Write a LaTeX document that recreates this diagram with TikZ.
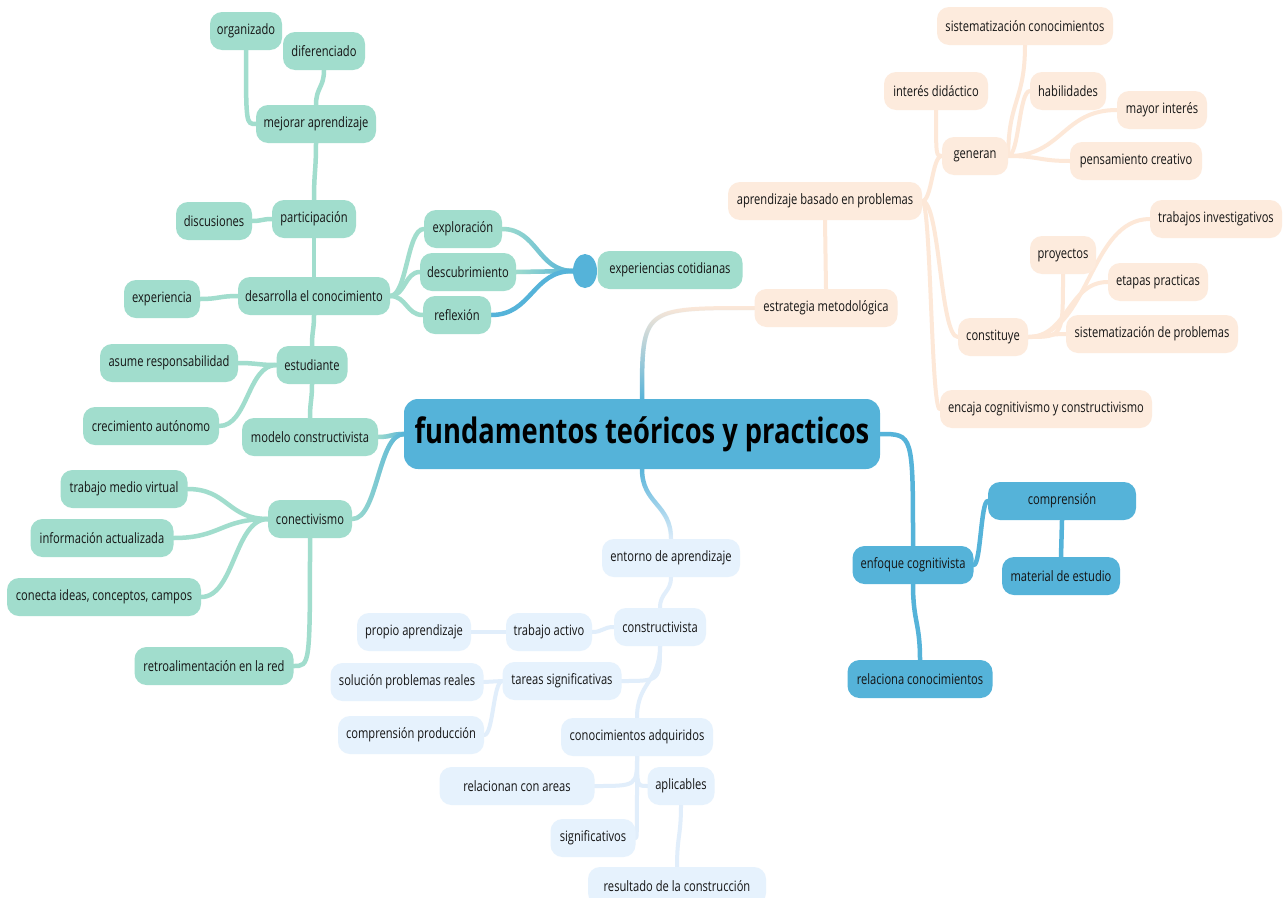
\documentclass[tikz,border=0pt]{standalone}
\usepackage{fontspec}
\setmainfont{Open Sans}[FakeStretch=0.78]
\usetikzlibrary{calc,backgrounds,fadings,shapes.geometric}
\definecolor{tealc}{HTML}{A1DDCD}
\definecolor{bluec}{HTML}{55B3D9}
\definecolor{peachc}{HTML}{FDEBDD}
\definecolor{peachl}{HTML}{FDE8D8}
\definecolor{lbluec}{HTML}{E6F2FD}
\definecolor{lbluel}{HTML}{E1EEFB}
\definecolor{txt}{HTML}{141414}
\tikzfading[name=fadeR, left color=transparent!100, right color=transparent!0]
\tikzfading[name=fadeUp, top color=transparent!100, bottom color=transparent!0]
\tikzfading[name=fadeDown, top color=transparent!0, bottom color=transparent!100]
\begin{document}
\begin{tikzpicture}[x=1pt,y=-1pt,
  box/.style={rounded corners=12pt, minimum height=38pt, inner xsep=4pt, inner ysep=0pt,
    font=\fontsize{14.3}{16}\selectfont, text=txt},
  tb/.style={box, fill=tealc},
  pb/.style={box, fill=peachc},
  bb/.style={box, fill=bluec},
  lb/.style={box, fill=lbluec},
  titlebox/.style={rounded corners=14pt, fill=bluec, minimum height=70pt, inner sep=0pt,
    font=\fontsize{35}{38}\selectfont\bfseries, text=black},
  conn/.style={line width=4.5pt, line cap=round},
  tl/.style={conn, draw=tealc},
  pl/.style={conn, draw=peachl, line width=4pt},
  bl/.style={conn, draw=bluec},
  ll/.style={conn, draw=lbluel, line width=4pt},
  hh/.style={to path={let \p1=(\tikztostart), \p2=(\tikztotarget) in
    (\p1) .. controls ({(\x1+\x2)/2},\y1) and ({(\x1+\x2)/2},\y2) .. (\p2)}},
  vv/.style={to path={let \p1=(\tikztostart), \p2=(\tikztotarget) in
    (\p1) .. controls (\x1,{(\y1+\y2)/2}) and (\x2,{(\y1+\y2)/2}) .. (\p2)}},
  hv/.style={to path={let \p1=(\tikztostart), \p2=(\tikztotarget) in
    (\p1) .. controls (\x2,\y1) .. (\p2)}},
  vh/.style={to path={let \p1=(\tikztostart), \p2=(\tikztotarget) in
    (\p1) .. controls (\x1,\y2) .. (\p2)}}
]
\useasboundingbox (0,0) rectangle (1284,897);

% ---------- teal branch ----------
\node[tb, minimum width=72] (org) at (246,31) {organizado};
\node[tb, minimum width=82] (dif) at (324,51) {diferenciado};
\node[tb, minimum width=120] (mej) at (316,124) {mejorar aprendizaje};
\node[tb, minimum width=84] (par) at (314,219) {participación};
\node[tb, minimum width=76] (dis) at (214,221) {discusiones};
\node[tb, minimum width=152] (des) at (314,296) {desarrolla el conocimiento};
\node[tb, minimum width=76] (exper) at (162,299) {experiencia};
\node[tb, minimum width=78] (explo) at (463,229) {exploración};
\node[tb, minimum width=96] (desc) at (468,272) {descubrimiento};
\node[tb, minimum width=68] (refl) at (457,315) {reflexión};
\node[ellipse, fill=bluec, minimum width=24pt, minimum height=34pt, inner sep=0pt] (circ) at (585,271) {};
\node[tb, minimum width=145] (expc) at (670,270) {experiencias cotidianas};
\node[tb, minimum width=71] (est) at (312,365) {estudiante};
\node[tb, minimum width=138] (asu) at (169,363) {asume responsabilidad};
\node[tb, minimum width=136] (cre) at (151,426) {crecimiento autónomo};
\node[tb, minimum width=136] (mod) at (310,437) {modelo constructivista};
\node[tb, minimum width=84] (con) at (310,519) {conectivismo};
\node[tb, minimum width=127] (tra) at (124,489) {trabajo medio virtual};
\node[tb, minimum width=143] (inf) at (102,538) {información actualizada};
\node[tb, minimum width=194] (cid) at (104,597) {conecta ideas, conceptos, campos};
\node[tb, minimum width=159] (ret) at (214,666) {retroalimentación en la red};

% ---------- title ----------
\node[titlebox, minimum width=476pt] (T) at (642,434) {fundamentos teóricos y practicos};

% ---------- peach branch ----------
\node[pb, minimum width=176] (sisc) at (1025,26) {sistematización conocimientos};
\node[pb, minimum width=104] (intd) at (936,91) {interés didáctico};
\node[pb, minimum width=76] (hab) at (1068,91) {habilidades};
\node[pb, minimum width=90] (may) at (1162,110) {mayor interés};
\node[pb, minimum width=66] (gen) at (975,156) {generan};
\node[pb, minimum width=132] (pen) at (1136,161) {pensamiento creativo};
\node[pb, minimum width=194] (abp) at (825,201) {aprendizaje basado en problemas};
\node[pb, minimum width=132] (tinv) at (1216,219) {trabajos investigativos};
\node[pb, minimum width=66] (pro) at (1063,255) {proyectos};
\node[pb, minimum width=100] (eta) at (1158,282) {etapas practicas};
\node[pb, minimum width=143] (estr) at (826,308) {estrategia metodológica};
\node[pb, minimum width=70] (cons) at (993,337) {constituye};
\node[pb, minimum width=172] (sisp) at (1152,334) {sistematización de problemas};
\node[pb, minimum width=212] (enc) at (1046,409) {encaja cognitivismo y constructivismo};

% ---------- blue branch ----------
\node[bb, minimum width=121] (enf) at (913,565) {enfoque cognitivista};
\node[bb, minimum width=148] (comp) at (1062,501) {comprensión};
\node[bb, minimum width=118] (mat) at (1061,576) {material de estudio};
\node[bb, minimum width=145] (rel) at (920,679) {relaciona conocimientos};

% ---------- light blue branch ----------
\node[lb, minimum width=138] (ent) at (671,558) {entorno de aprendizaje};
\node[lb, minimum width=92] (cvt) at (660,627) {constructivista};
\node[lb, minimum width=86] (tac) at (549,632) {trabajo activo};
\node[lb, minimum width=114] (pap) at (414,632) {propio aprendizaje};
\node[lb, minimum width=119] (tsig) at (562,681) {tareas significativas};
\node[lb, minimum width=153] (spr) at (407,682) {solución problemas reales};
\node[lb, minimum width=146] (cpr) at (411,735) {comprensión producción};
\node[lb, minimum width=152] (cad) at (637,737) {conocimientos adquiridos};
\node[lb, minimum width=155] (rca) at (517,786) {relacionan con areas};
\node[lb, minimum width=67] (apl) at (681,786) {aplicables};
\node[lb, minimum width=85] (sig) at (593,838) {significativos};
\node[lb, minimum width=178] (res) at (677,886) {resultado de la construcción};

\begin{pgfonlayer}{background}
\fill[white] (0,0) rectangle (1284,897);
% teal connectors
\draw[tl] (org.south) to[vh] (mej.west);
\draw[tl] (dif.south) to[vv] (mej.north);
\draw[tl] (mej.south) to[vv] (par.north);
\draw[tl] (dis.east) to[hh] (par.west);
\draw[tl] (par.south) to[vv] (des.north);
\draw[tl] (exper.east) to[hh] (des.west);
\draw[tl] (des.east) to[hh] (explo.west);
\draw[tl] (des.east) to[hh] (desc.west);
\draw[tl] (des.east) to[hh] (refl.west);
\draw[tl] (explo.east) to[hh] (circ.west);
\draw[bl, path fading=fadeR] (explo.east) to[hh] (circ.west);
\draw[tl] (desc.east) to[hh] (circ.west);
\draw[bl, path fading=fadeR] (desc.east) to[hh] (circ.west);
\draw[bl] (refl.east) to[hh] (circ.west);
\draw[tl] (des.south) to[vv] (est.north);
\draw[tl] (asu.east) to[hh] (est.west);
\draw[tl] (cre.east) to[hh] (est.west);
\draw[tl] (est.south) to[vv] (mod.north);
\draw[tl] (mod.east) to[hh] (T.west);
\draw[bl, path fading=fadeR] (mod.east) to[hh] (T.west);
\draw[tl] (con.east) to[hh] (T.west);
\draw[bl, path fading=fadeR] (con.east) to[hh] (T.west);
\draw[tl] (tra.east) to[hh] (con.west);
\draw[tl] (inf.east) to[hh] (con.west);
\draw[tl] (cid.east) to[hh] (con.west);
\draw[tl] (ret.east) to[hv] (con.south);
% peach connectors
\draw[pl] (T.north) to[vh] (estr.west);
\draw[bl, path fading=fadeUp] (T.north) to[vh] (estr.west);
\draw[pl] (estr.north) to[vv] (abp.south);
\draw[pl] (abp.east) to[hh] (gen.west);
\draw[pl] (abp.east) to[hh] (cons.west);
\draw[pl] (abp.east) to[hh] (enc.west);
\draw[pl] (intd.south) to[vh] (gen.west);
\draw[pl] (gen.east) to[vv] (sisc.south);
\draw[pl] (gen.east) to[hh] (hab.west);
\draw[pl] (gen.east) to[hh] (may.west);
\draw[pl] (gen.east) to[hh] (pen.west);
\draw[pl] (cons.east) to[hv] (pro.south);
\draw[pl] (cons.east) to[hh] (tinv.west);
\draw[pl] (cons.east) to[hh] (eta.west);
\draw[pl] (cons.east) to[hh] (sisp.west);
% blue connectors
\draw[bl] (T.east) to[hv] (enf.north);
\draw[bl] (enf.east) to[hh] (comp.west);
\draw[bl] (comp.south) to[vv] (mat.north);
\draw[bl] (enf.south) to[vv] (rel.north);
% light blue connectors
\draw[ll] (T.south) to[vv] (ent.north);
\draw[bl, path fading=fadeDown] (T.south) to[vv] (ent.north);
\draw[ll] (ent.south) to[vv] (cvt.north);
\draw[ll] (cvt.west) to[hh] (tac.east);
\draw[ll] (tac.west) to[hh] (pap.east);
\draw[ll] (cvt.south) to[vh] (tsig.east);
\draw[ll] (cvt.south) to[vv] (cad.north);
\draw[ll] (tsig.west) to[hh] (spr.east);
\draw[ll] (tsig.west) to[hh] (cpr.east);
\draw[ll] (cad.south) to[vh] (rca.east);
\draw[ll] (cad.south) to[vh] (apl.west);
\draw[ll] (cad.south) to[vh] (sig.east);
\draw[ll] (apl.south) to[vv] (res.north);
\end{pgfonlayer}
\end{tikzpicture}
\end{document}
